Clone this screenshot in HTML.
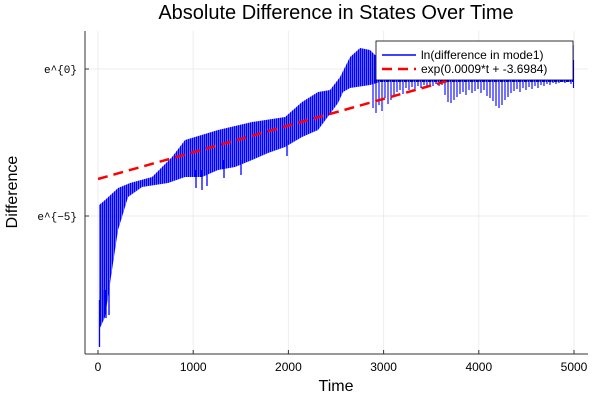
<!DOCTYPE html>
<html><head><meta charset="utf-8"><style>
html,body{margin:0;padding:0;background:#fff}
svg{display:block;font-family:"Liberation Sans","DejaVu Sans",sans-serif}
</style></head><body>
<svg width="600" height="400" xmlns="http://www.w3.org/2000/svg">
<defs>
<pattern id="st" x="0" y="0" width="2" height="10" patternUnits="userSpaceOnUse">
<rect x="0" y="0" width="1.6" height="10" fill="#0000ff"/>
</pattern>
</defs>
<rect width="600" height="400" fill="#fff"/>
<g stroke="#ececec" stroke-width="1">
<line x1="98" y1="31" x2="98" y2="354"/><line x1="193.2" y1="31" x2="193.2" y2="354"/><line x1="288.4" y1="31" x2="288.4" y2="354"/><line x1="383.6" y1="31" x2="383.6" y2="354"/><line x1="478.8" y1="31" x2="478.8" y2="354"/><line x1="574" y1="31" x2="574" y2="354"/>
<line x1="85" y1="69" x2="588" y2="69"/><line x1="85" y1="216" x2="588" y2="216"/>
</g>
<polygon fill="url(#st)" points="99,205 105,200 118,188 130,183 152,177 172,157 185,140 218,130 252,122 285,117 302,102 318,92 330,90 340,77 350,57 360,48 370,50 375,55 385,52 420,50 460,45 520,48 574,45 574,82 380,82 370,85 350,88 343,92 338,103 318,130 302,137 285,147 268,153 252,160 235,167 218,170 202,177 185,177 168,183 142,187 128,197 118,230 112,270 105,317 99,330"/>
<g stroke="#0000ff" stroke-width="1.3">
<line x1="99.5" y1="300" x2="99.5" y2="347"/><line x1="103" y1="290" x2="103" y2="318"/><line x1="106" y1="290" x2="106" y2="318"/><line x1="109" y1="280" x2="109" y2="315"/>
<line x1="196" y1="170" x2="196" y2="188"/><line x1="202" y1="170" x2="202" y2="190"/><line x1="207" y1="170" x2="207" y2="186"/><line x1="224" y1="160" x2="224" y2="178"/><line x1="241" y1="160" x2="241" y2="175"/><line x1="287" y1="140" x2="287" y2="156"/>
</g>
<g stroke="#0000ff" stroke-width="1.1">
<path d="M373 80V108M376 80V113M379 80V105M382 80V111M385 80V98M388 80V104M391 80V100M394 80V96M397 80V92M400 80V90M403 80V94M406 80V88M409 80V90M412 80V87M415 80V89M418 80V86M421 80V88M424 80V85M427 80V87M430 80V85M433 80V86M436 80V84M439 80V86M442 80V85M445 80V95M448 80V102M451 80V103M454 80V100M457 80V97M460 80V94M463 80V92M466 80V95M469 80V90M472 80V93M475 80V91M478 80V89M481 80V93M484 80V90M487 80V96M490 80V98M493 80V101M496 80V106M499 80V108M502 80V105M505 80V100M508 80V97M511 80V93M514 80V91M517 80V89M520 80V92M523 80V88M526 80V90M529 80V87M532 80V89M535 80V86M538 80V88M541 80V85M544 80V86M547 80V84M550 80V85M553 80V83M556 80V84M559 80V83M562 80V82M565 80V83M568 80V82M571 80V84M573.5 60V88"/>
</g>
<line x1="98" y1="179" x2="574" y2="45.5" stroke="#ff0000" stroke-width="2.5" stroke-dasharray="10,6"/>
<line x1="85" y1="31" x2="85" y2="354" stroke="#333" stroke-width="1"/>
<line x1="85" y1="354" x2="588" y2="354" stroke="#333" stroke-width="1"/>
<g stroke="#333"><line x1="98" y1="354" x2="98" y2="350"/><line x1="193.2" y1="354" x2="193.2" y2="350"/><line x1="288.4" y1="354" x2="288.4" y2="350"/><line x1="383.6" y1="354" x2="383.6" y2="350"/><line x1="478.8" y1="354" x2="478.8" y2="350"/><line x1="574" y1="354" x2="574" y2="350"/>
<line x1="85" y1="69" x2="89" y2="69"/><line x1="85" y1="216" x2="89" y2="216"/></g>
<g font-size="12" fill="#000" text-anchor="middle">
<text x="98" y="371">0</text><text x="193.2" y="371">1000</text><text x="288.4" y="371">2000</text><text x="383.6" y="371">3000</text><text x="478.8" y="371">4000</text><text x="574" y="371">5000</text>
</g>
<g font-size="11" fill="#000" text-anchor="end" font-family="Liberation Mono,monospace">
<text x="77" y="73">e^{0}</text><text x="77" y="220">e^{−5}</text>
</g>
<text x="336" y="391" font-size="16" text-anchor="middle">Time</text>
<text x="17" y="192" font-size="16" text-anchor="middle" transform="rotate(-90 17 192)">Difference</text>
<text x="336" y="19" font-size="20" text-anchor="middle">Absolute Difference in States Over Time</text>
<rect x="376" y="41" width="197" height="39" fill="#fff" stroke="#000" stroke-width="0.8"/>
<line x1="382" y1="55" x2="416" y2="55" stroke="#0000ff" stroke-width="1.5"/>
<line x1="382" y1="69" x2="416" y2="69" stroke="#ff0000" stroke-width="2.5" stroke-dasharray="10,6"/>
<text x="421" y="59" font-size="12">ln(difference in mode1)</text>
<text x="421" y="73" font-size="12">exp(0.0009*t + -3.6984)</text>
</svg>
</body></html>
